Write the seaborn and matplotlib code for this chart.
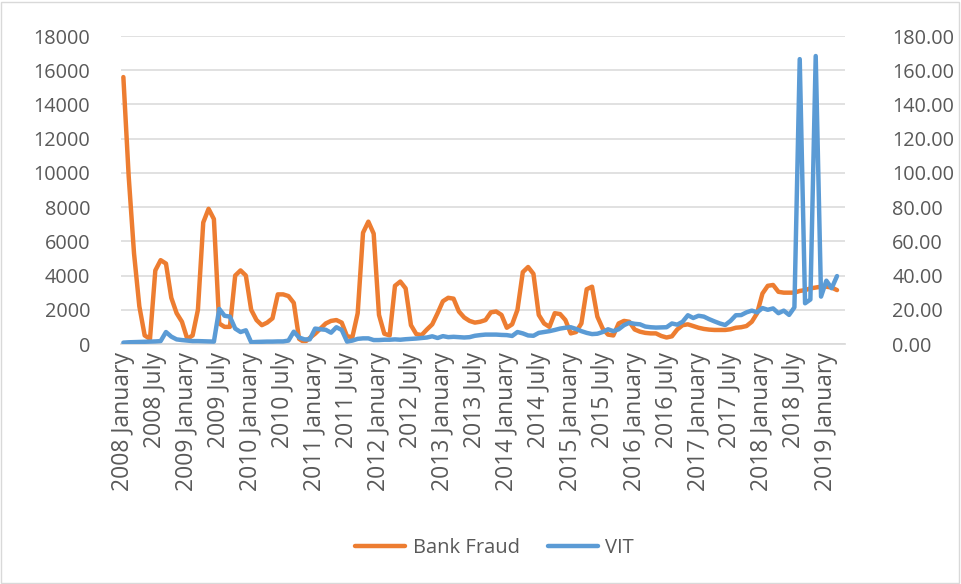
import matplotlib
matplotlib.use("Agg")
import matplotlib.pyplot as plt
import seaborn as sns
import pandas as pd
from matplotlib.ticker import FuncFormatter, MultipleLocator
from matplotlib.patches import Rectangle

# monthly values, 2008 January .. 2019 March
bank_fraud = [
    15600, 9800, 5300, 2200, 500, 300, 4300, 4900, 4700, 2700, 1800, 1300,   # 2008
    300, 500, 2000, 7100, 7900, 7300, 1200, 1000, 1000, 4000, 4300, 4000,    # 2009
    2000, 1400, 1100, 1250, 1500, 2900, 2900, 2800, 2400, 300, 100, 350,     # 2010
    600, 900, 1200, 1350, 1400, 1250, 450, 400, 1800, 6500, 7150, 6450,      # 2011
    1700, 600, 500, 3400, 3650, 3250, 1100, 580, 520, 850, 1150, 1800,       # 2012
    2500, 2700, 2650, 1900, 1550, 1350, 1250, 1300, 1400, 1850, 1900, 1700,  # 2013
    950, 1150, 2000, 4200, 4500, 4100, 1700, 1200, 1000, 1800, 1750, 1400,   # 2014
    620, 700, 1200, 3200, 3350, 1600, 900, 550, 500, 1200, 1350, 1300,       # 2015
    850, 720, 650, 620, 620, 470, 380, 450, 850, 1100, 1150, 1050,           # 2016
    950, 880, 840, 820, 820, 820, 860, 950, 980, 1050, 1300, 1800,           # 2017
    2950, 3400, 3450, 3050, 3000, 3000, 3000, 3100, 3150, 3250, 3300, 3350,  # 2018
    3350, 3300, 3150,                                                        # 2019
]
vit = [
    0.8, 1.0, 1.1, 1.2, 1.3, 1.4, 1.5, 1.7, 7.0, 4.3, 2.7, 2.3,
    2.0, 1.7, 1.7, 1.6, 1.5, 1.4, 20.5, 16.5, 16.0, 9.0, 7.0, 8.0,
    1.0, 1.2, 1.3, 1.4, 1.4, 1.5, 1.5, 2.0, 7.2, 3.8, 2.7, 2.7,
    9.0, 8.6, 8.3, 6.6, 9.8, 8.2, 1.4, 2.0, 3.0, 3.3, 3.3, 2.3,
    2.3, 2.5, 2.5, 2.7, 2.5, 2.8, 3.0, 3.2, 3.5, 3.8, 4.5, 3.5,
    4.6, 4.0, 4.2, 4.0, 3.8, 4.0, 4.8, 5.2, 5.5, 5.5, 5.5, 5.3,
    5.2, 4.7, 7.0, 6.2, 5.0, 4.8, 6.5, 7.0, 7.5, 8.2, 9.0, 9.5,
    9.8, 8.8, 7.5, 6.5, 5.8, 6.0, 7.0, 8.6, 7.5, 8.6, 11.0, 12.4,
    11.8, 11.5, 10.2, 9.8, 9.6, 9.7, 9.8, 12.0, 11.3, 13.0, 16.8, 15.2,
    16.5, 16.0, 14.5, 13.2, 12.0, 11.1, 13.5, 16.8, 16.9, 18.5, 19.5, 18.5,
    21.0, 20.0, 20.8, 18.0, 19.5, 17.0, 21.4, 166.5, 23.8, 26.0, 168.3, 27.7,
    37.0, 32.6, 39.7,
]
tick_labels = [
    "2008 January", "2008 July", "2009 January", "2009 July", "2010 January",
    "2010 July", "2011 January", "2011 July", "2012 January", "2012 July",
    "2013 January", "2013 July", "2014 January", "2014 July", "2015 January",
    "2015 July", "2016 January", "2016 July", "2017 January", "2017 July",
    "2018 January", "2018 July", "2019 January",
]

df = pd.DataFrame({"month": range(len(bank_fraud)), "Bank Fraud": bank_fraud, "VIT": vit})

sns.set_theme(style="white")
plt.rcParams["font.family"] = ["Open Sans", "DejaVu Sans"]
grey = "#595959"

fig = plt.figure(figsize=(9.62, 5.84), dpi=100)
ax = fig.add_axes([120.7 / 962, 1 - 344 / 584, (845 - 120.7) / 962, 308 / 584])

sns.lineplot(data=df, x="month", y="Bank Fraud", ax=ax, color="#ED7D31",
             linewidth=3.2, label="Bank Fraud", legend=False)
ax2 = ax.twinx()
sns.lineplot(data=df, x="month", y="VIT", ax=ax2, color="#5B9BD5",
             linewidth=3.2, label="VIT", legend=False)

ax.set_xlim(-0.5, len(bank_fraud) + 0.5)  # one empty category at the end
ax.set_ylim(0, 18000)
ax2.set_ylim(0, 180)
ax.yaxis.set_major_locator(MultipleLocator(2000))
ax2.yaxis.set_major_locator(MultipleLocator(20))
ax2.yaxis.set_major_formatter(FuncFormatter(lambda v, p: f"{v:.2f}"))

ax.set_xticks(range(0, 6 * len(tick_labels), 6))
ax.set_xticklabels(tick_labels, rotation=90, fontsize=16.5, color=grey)
ax.tick_params(axis="y", labelsize=14.3, labelcolor=grey, length=0, pad=22)
ax.tick_params(axis="x", length=0, pad=6)
ax2.tick_params(axis="y", labelsize=14.3, labelcolor=grey, length=0, pad=34)

ax.grid(axis="y", color="#d9d9d9", linewidth=1.1)
ax.set_axisbelow(True)
for s in ["top", "left", "right"]:
    ax.spines[s].set_visible(False)
    ax2.spines[s].set_visible(False)
ax.spines["bottom"].set_color("#d9d9d9")
ax2.spines["bottom"].set_visible(False)
ax.set_xlabel("")
ax.set_ylabel("")
ax2.set_ylabel("")

h1, l1 = ax.get_legend_handles_labels()
h2, l2 = ax2.get_legend_handles_labels()
fig.legend(h1 + h2, l1 + l2, loc="center", bbox_to_anchor=(494.5 / 962, 1 - 548 / 584),
           ncol=2, frameon=False, fontsize=14.5, labelcolor=grey,
           handlelength=2.5, columnspacing=1.4, handletextpad=0.35)

fig.patches.append(Rectangle((0.001, 0.002), 0.996, 0.995, transform=fig.transFigure,
                             fill=False, edgecolor="#d9d9d9", linewidth=1))

fig.savefig("out.png", dpi=100)
